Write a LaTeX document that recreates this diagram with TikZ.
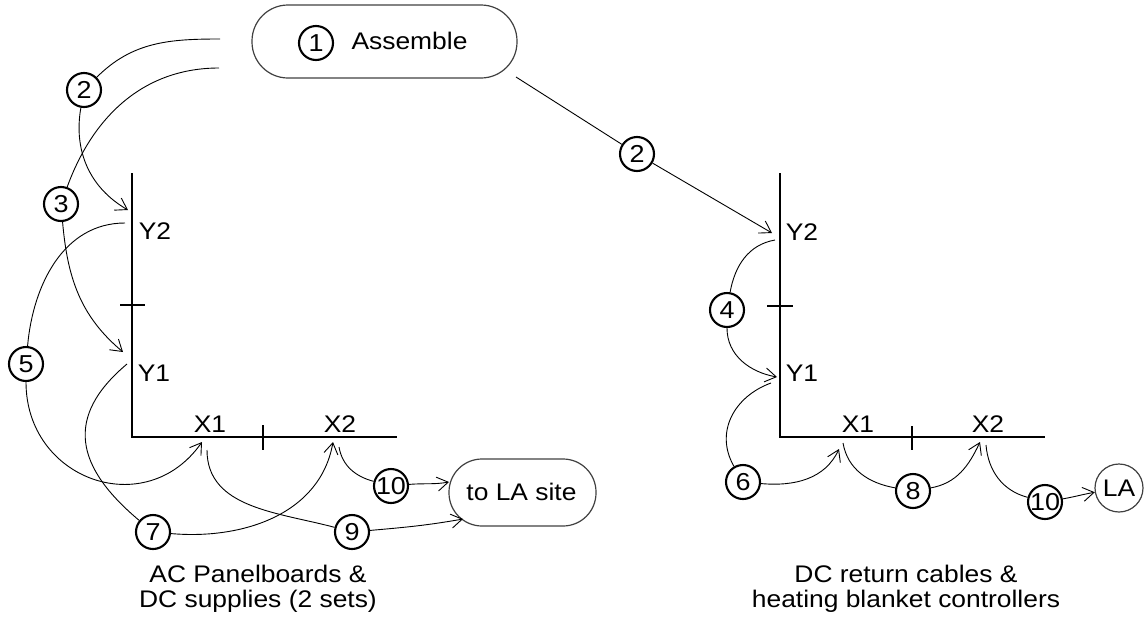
\documentclass[tikz,border=0pt]{standalone}
\usepackage{fontspec}
\setmainfont{Liberation Sans}[FakeStretch=1.1]
\usetikzlibrary{arrows.meta}
\tikzset{
  num/.style={circle, draw, line width=2.1pt, minimum size=34pt, inner sep=0pt, font=\fontsize{24.5}{24.5}\selectfont},
  conn/.style={line width=0.9pt},
  arr/.style={conn, -{Straight Barb[length=11pt,width=14pt]}},
  axisline/.style={line width=2.6pt},
  tickline/.style={line width=1.3pt},
  lbl/.style={font=\fontsize{24}{24}\selectfont, inner sep=0pt},
  captxt/.style={font=\fontsize{24}{25}\selectfont, inner sep=0pt, align=center, anchor=base},
  pill/.style={draw=black!75, line width=1.2pt, rectangle, inner sep=0pt}
}
\begin{document}
\begin{tikzpicture}[x=1pt,y=1pt]
\useasboundingbox (0,0) rectangle (1144,-619);

% ---------- Assemble ----------
\node[pill, minimum width=265pt, minimum height=73pt, rounded corners=36pt] (asm) at (384.5,-41.5) {};
\node[num] (c1) at (316,-43) {1};
\node[lbl] (asmtxt) at (409.5,-41) {Assemble};

% ---------- left panel axes ----------
\coordinate (LT) at (132,-173);
\coordinate (LO) at (132,-437);
\coordinate (LR) at (397,-437);
\draw[axisline] (LT) -- (LO) -- (LR);
\coordinate (LvA) at (120,-305); \coordinate (LvB) at (145,-305);
\coordinate (LhA) at (263,-425); \coordinate (LhB) at (263,-450);
\draw[tickline] (LvA) -- (LvB);
\draw[tickline] (LhA) -- (LhB);
\node[lbl] (Y2L) at (155,-231) {Y2};
\node[lbl] (Y1L) at (154,-373) {Y1};
\node[lbl] (X1L) at (210,-424) {X1};
\node[lbl] (X2L) at (340,-424) {X2};

\node[pill, minimum width=147pt, minimum height=67pt, rounded corners=33pt] (site) at (522.5,-492.5) {};
\node[lbl] (sitetxt) at (521.5,-492) {to LA site};

\node[num] (c2L) at (84,-90) {2};
\node[num] (c3L) at (61,-204) {3};
\node[num] (c5) at (26,-364) {5};
\node[num] (c7) at (153,-532) {7};
\node[num] (c9) at (352,-532) {9};
\node[num] (c10L) at (391,-486) {\makebox[0pt]{10}};

\coordinate (s2L) at (220,-39);
\coordinate (s3L) at (219,-68);
\coordinate (tY2L) at (128,-210);
\coordinate (tY1L) at (123,-352);
\coordinate (s5) at (125,-223);
\coordinate (s7) at (127,-364);
\coordinate (tX1L) at (202,-442);
\coordinate (tX2L) at (333,-442);
\coordinate (s9) at (207,-450);
\coordinate (s10L) at (339,-447);
\coordinate (t9) at (463,-519);
\coordinate (t10L) at (449,-482);

\draw[conn] (s2L) to[out=180,in=45] (c2L);
\draw[arr] (c2L) to[out=-100,in=150] (tY2L);
\draw[conn] (s3L) to[out=180,in=70] (c3L);
\draw[arr] (c3L) to[out=-85,in=140] (tY1L);
\draw[conn] (s5) to[out=180,in=85] (c5);
\draw[arr] (c5) to[out=-90,in=-125,looseness=1.35] (tX1L);
\draw[conn] (s7) to[out=220,in=140,looseness=1.35] (c7);
\draw[arr] (c7) to[out=-5,in=-100] (tX2L);
\draw[conn] (s9) to[out=-90,in=165] (c9);
\draw[arr] (c9) to[out=5,in=190] (t9);
\draw[conn] (s10L) to[out=-80,in=165] (c10L);
\draw[arr] (c10L) to[out=5,in=190] (t10L);

\node[captxt] (capL) at (258,-607) {AC Panelboards \&\\DC supplies (2 sets)};

% ---------- right panel axes ----------
\coordinate (RT) at (780,-173);
\coordinate (RO) at (780,-437);
\coordinate (RR) at (1045,-437);
\draw[axisline] (RT) -- (RO) -- (RR);
\coordinate (RvA) at (767,-306); \coordinate (RvB) at (793,-306);
\coordinate (RhA) at (912,-426); \coordinate (RhB) at (912,-450);
\draw[tickline] (RvA) -- (RvB);
\draw[tickline] (RhA) -- (RhB);
\node[lbl] (Y2R) at (802,-232) {Y2};
\node[lbl] (Y1R) at (802,-373) {Y1};
\node[lbl] (X1R) at (858,-424) {X1};
\node[lbl] (X2R) at (988,-424) {X2};

\node[circle, draw=black!75, line width=1.2pt, minimum size=48pt, inner sep=0pt, font=\fontsize{24}{24}\selectfont] (LA) at (1119,-488) {LA};

\node[num] (c2R) at (637,-154) {2};
\node[num] (c4) at (727,-310) {4};
\node[num] (c6) at (743,-482) {6};
\node[num] (c8) at (913,-491) {8};
\node[num] (c10R) at (1045,-502) {\makebox[0pt]{10}};

\coordinate (s2R) at (516,-77);
\coordinate (tY2R) at (772,-233);
\coordinate (s4) at (775,-240);
\coordinate (tY1R) at (777,-377);
\coordinate (s6) at (771,-383);
\coordinate (tX1R) at (839,-449);
\coordinate (s8) at (843,-443);
\coordinate (tX2R) at (980,-442);
\coordinate (s10R) at (986,-445);

\draw[conn] (s2R) -- (c2R);
\draw[arr] (c2R) -- (tY2R);
\draw[conn] (s4) to[out=190,in=80] (c4);
\draw[arr] (c4) to[out=-90,in=170] (tY1R);
\draw[conn] (s6) to[out=200,in=120,looseness=1.1] (c6);
\draw[arr] (c6) to[out=-5,in=-115] (tX1R);
\draw[conn] (s8) to[out=-80,in=170] (c8);
\draw[arr] (c8) to[out=10,in=-115] (tX2R);
\draw[conn] (s10R) to[out=-85,in=165] (c10R);
\draw[arr] (c10R) to[out=10,in=190] (LA);

\node[captxt] (capR) at (906,-607) {DC return cables \&\\heating blanket controllers};
\end{tikzpicture}
\end{document}
